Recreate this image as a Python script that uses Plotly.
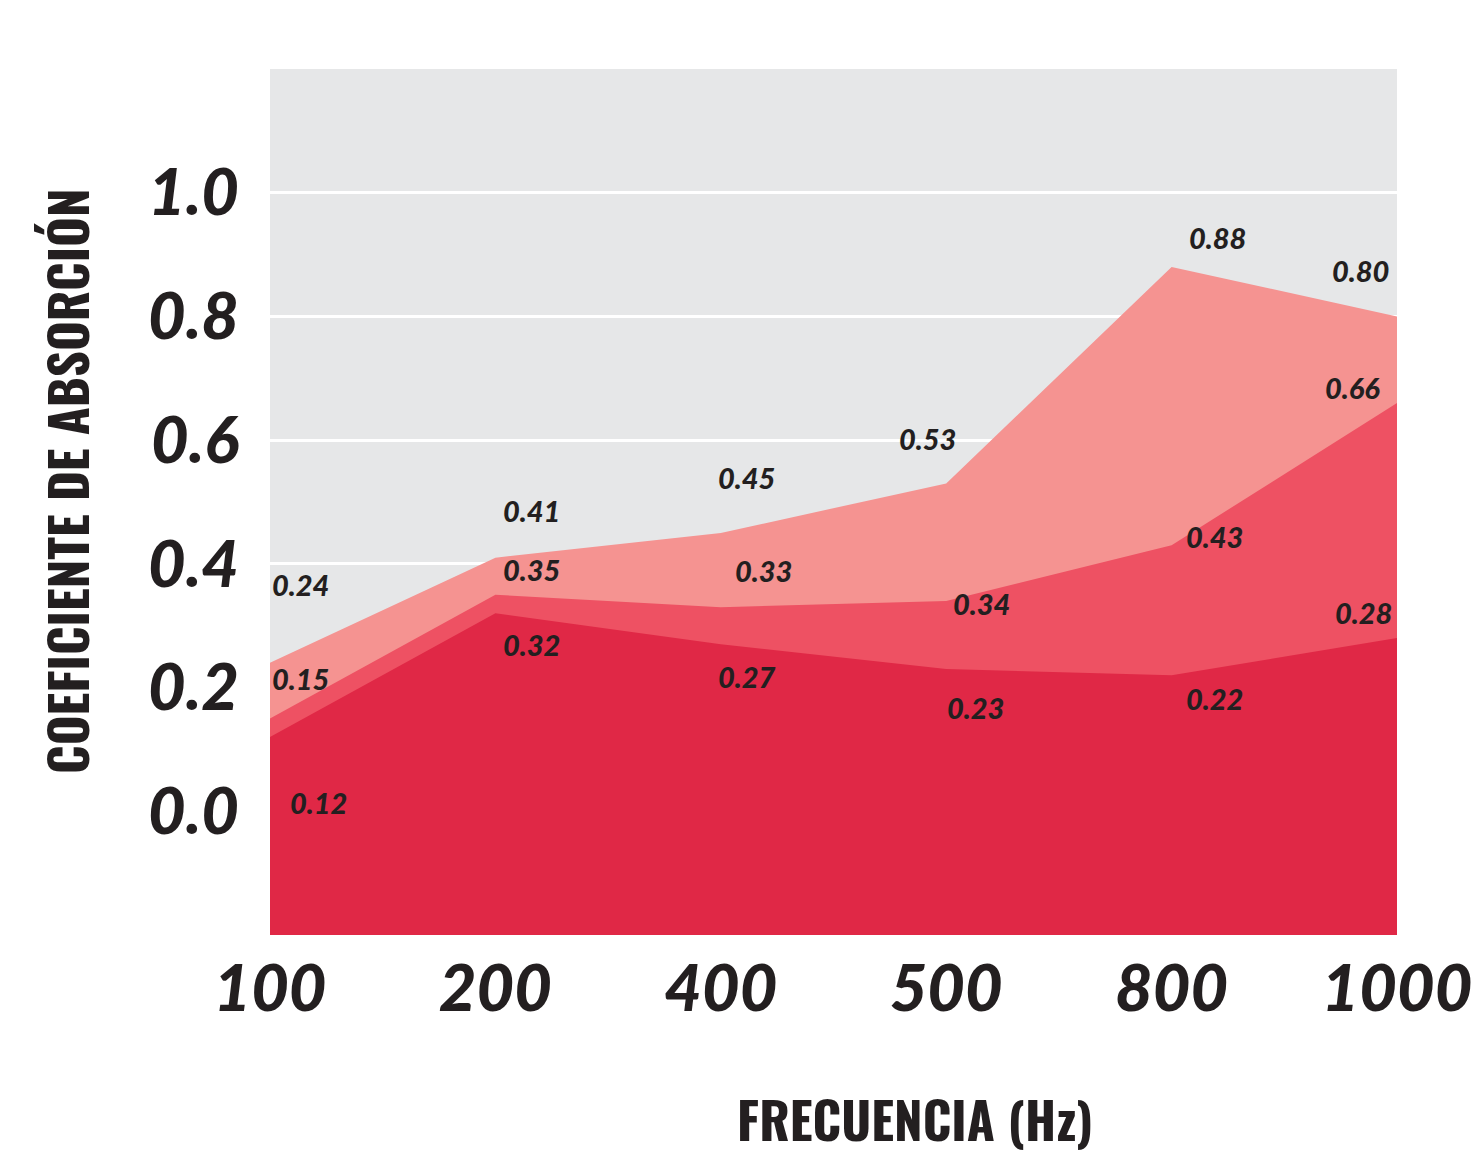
import plotly.graph_objects as go

# Frequency bands (Hz) and absorption coefficients for three panel configurations
frecuencias = ["100", "200", "400", "500", "800", "1000"]
coef_alto = [0.24, 0.41, 0.45, 0.53, 0.88, 0.80]
coef_medio = [0.15, 0.35, 0.33, 0.34, 0.43, 0.66]
coef_bajo = [0.12, 0.32, 0.27, 0.23, 0.22, 0.28]

y_ticks = [0.0, 0.2, 0.4, 0.6, 0.8, 1.0, 1.2]
y_ticktext = ["0.0", "0.2", "0.4", "0.6", "0.8", "1.0", ""]

Y_MIN, Y_MAX = -0.2, 1.2

# Pixel offsets (dx, dy) of each value label from its point
off_alto = [(30, 78), (36, 47), (26, 55), (-19, 45), (46, 29), (-37, 46)]
off_medio = [(30, 40), (36, 25), (43, 37), (35, -3), (43, 9), (-45, 16)]
off_bajo = [(48, -65), (36, -31), (26, -32), (29, -38), (43, -23), (-34, 26)]

series = [
    (coef_alto, "#f59391", off_alto),
    (coef_medio, "#ee5163", off_medio),
    (coef_bajo, "#e02846", off_bajo),
]

W, H = 1476, 1157
L, R, T, B = 270, 79, 69, 222
pw, ph = W - L - R, H - T - B

fig = go.Figure()

for vals, color, _ in series:
    # closed polygon down to the bottom of the plotting range
    fig.add_trace(go.Scatter(
        x=frecuencias + [frecuencias[-1], frecuencias[0]],
        y=vals + [Y_MIN, Y_MIN],
        mode="lines",
        fill="toself",
        fillcolor=color,
        line=dict(width=0, color=color),
        hoverinfo="skip",
        showlegend=False,
    ))

label_font = dict(family="Lato, 'Open Sans', sans-serif", size=29, color="#231f20",
                  weight=900, style="italic")
for vals, _, offs in series:
    for i, (v, (dx, dy)) in enumerate(zip(vals, offs)):
        fig.add_annotation(
            x=i, y=v, xref="x", yref="y",
            text=f"{v:.2f}", showarrow=False,
            xshift=dx, yshift=dy,
            font=label_font,
        )

title_font = dict(family="Oswald, 'Open Sans Condensed', sans-serif",
                  size=51, color="#231f20", weight="bold")
fig.add_annotation(
    text="FRECUENCIA (Hz)", xref="paper", yref="paper",
    x=(915 - L) / pw, y=(H - B - 1118) / ph,
    xanchor="center", yanchor="middle",
    showarrow=False, font=title_font,
)
fig.add_annotation(
    text="COEFICIENTE DE ABSORCIÓN", textangle=-90, xref="paper", yref="paper",
    x=(66 - L) / pw, y=(H - B - 481) / ph,
    xanchor="center", yanchor="middle",
    showarrow=False, font=title_font,
)

tick_font = dict(family="Lato, 'Open Sans', sans-serif", size=65, color="#231f20",
                 weight=900, style="italic")

fig.update_layout(
    width=W, height=H,
    margin=dict(l=L, r=R, t=T, b=B, autoexpand=False),
    paper_bgcolor="white",
    plot_bgcolor="#e6e7e8",
    xaxis=dict(
        type="category", range=[0, len(frecuencias) - 1],
        showgrid=False, zeroline=False, showline=False, automargin=False,
        ticks="", tickfont=tick_font, ticklabelstandoff=10,
    ),
    yaxis=dict(
        range=[Y_MIN, Y_MAX], tickvals=y_ticks, ticktext=y_ticktext,
        showgrid=True, gridcolor="white", gridwidth=3,
        zeroline=False, showline=False, automargin=False,
        ticks="", tickfont=tick_font, ticklabelstandoff=30,
    ),
)

fig.write_html("out.html")
